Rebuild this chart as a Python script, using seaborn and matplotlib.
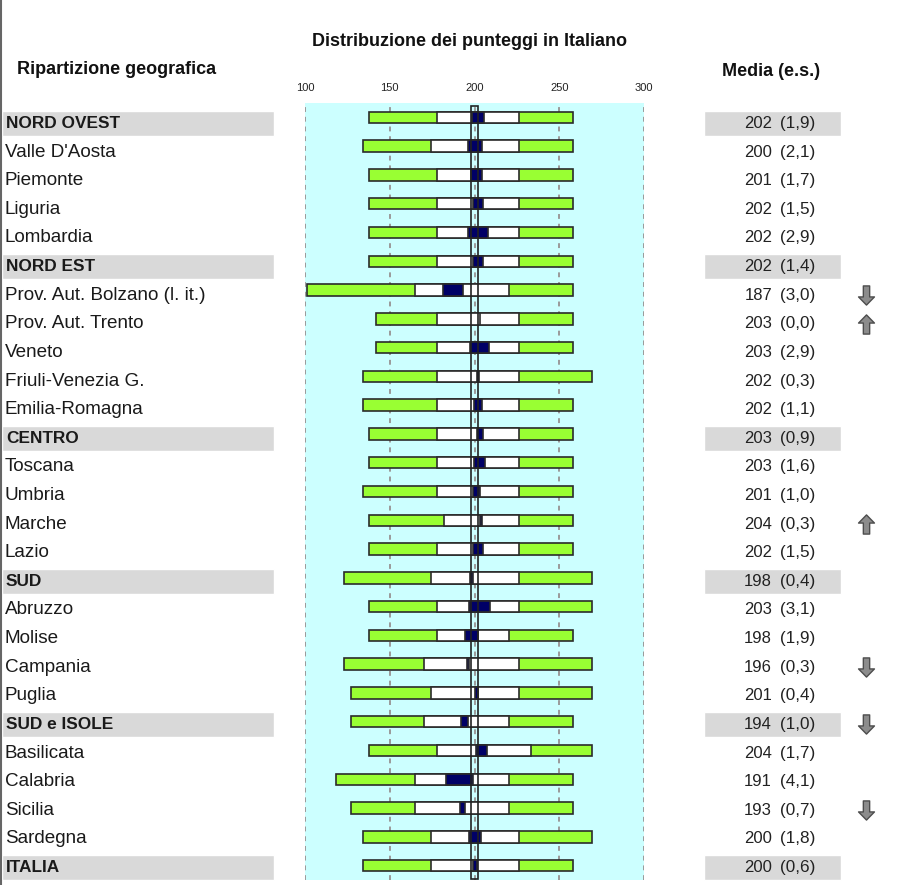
import numpy as np
import pandas as pd
import matplotlib.pyplot as plt
import seaborn as sns
from matplotlib.path import Path
from matplotlib.patches import Rectangle

### DATA ###

REGIONS = ["NORD OVEST", "Valle D'Aosta", "Piemonte", "Liguria", "Lombardia",
           "NORD EST", "Prov. Aut. Bolzano (l. it.)", "Prov. Aut. Trento", "Veneto",
           "Friuli-Venezia G.", "Emilia-Romagna", "CENTRO", "Toscana", "Umbria",
           "Marche", "Lazio", "SUD", "Abruzzo", "Molise", "Campania", "Puglia",
           "SUD e ISOLE", "Basilicata", "Calabria", "Sicilia", "Sardegna", "ITALIA"]
IS_AREA = [True, False, False, False, False, True, False, False, False, False, False,
           True, False, False, False, False, True, False, False, False, False, True,
           False, False, False, False, True]
MEANS = [202, 200, 201, 202, 202, 202, 187, 203, 203, 202, 202, 203, 203, 201,
         204, 202, 198, 203, 198, 196, 201, 194, 204, 191, 193, 200, 200]
SE = [1.9, 2.1, 1.7, 1.5, 2.9, 1.4, 3.0, 0.0, 2.9, 0.3, 1.1, 0.9, 1.6, 1.0,
      0.3, 1.5, 0.4, 3.1, 1.9, 0.3, 0.4, 1.0, 1.7, 4.1, 0.7, 1.8, 0.6]
P5 = [138, 134, 138, 138, 138, 138, 101, 142, 142, 134, 134, 138, 138, 134,
      138, 138, 123, 138, 138, 123, 127, 127, 138, 118, 127, 134, 134]
P25 = [178, 174, 178, 178, 178, 178, 165, 178, 178, 178, 178, 178, 178, 178,
       182, 178, 174, 178, 178, 170, 174, 170, 178, 165, 165, 174, 174]
P75 = [226, 226, 226, 226, 226, 226, 220, 226, 226, 226, 226, 226, 226, 226,
       226, 226, 226, 226, 220, 226, 226, 220, 233, 220, 220, 226, 226]
P95 = [258, 258, 258, 258, 258, 258, 258, 258, 258, 269, 258, 258, 258, 258,
       258, 258, 269, 269, 258, 269, 269, 258, 269, 258, 258, 269, 258]
# -1 significantly below Italy, +1 significantly above
TREND = [0, 0, 0, 0, 0, 0, -1, 1, 0, 0, 0, 0, 0, 0,
         1, 0, 0, 0, 0, -1, 0, -1, 0, 0, -1, 0, 0]
XTICKS = [100, 150, 200, 250, 300]

### STYLE ###

GREEN = "#99FF33"
NAVY = "#000066"
CYAN = "#CCFFFF"
BAND = "#D9D9D9"
EDGE = "#2b2b2b"
W, H = 906, 885


def fx(px):
    return px / W


def fy(py):
    return 1 - py / H


sns.set_theme(style="white")
plt.rcParams["font.family"] = ["Liberation Sans", "DejaVu Sans"]

df = pd.DataFrame({"regione": REGIONS, "area": IS_AREA, "media": MEANS, "es": SE,
                   "p5": P5, "p25": P25, "p75": P75, "p95": P95, "trend": TREND})
df["w_out"] = df["p95"] - df["p5"]
df["w_mid"] = df["p75"] - df["p25"]
df["ci_lo"] = df["media"] - 1.96 * df["es"]
df["w_ci"] = 2 * 1.96 * df["es"]
n = len(df)

fig = plt.figure(figsize=(W / 100, H / 100), dpi=100)

# table part: labels, values, arrows (x in pixels, y in rows)
tab = fig.add_axes([0, fy(881.8), 1, (881.8 - 109.2) / H])
tab.set_xlim(0, W)
tab.set_ylim(n - 0.5, -0.5)
tab.axis("off")

areas = df.index[df["area"]]
tab.barh(areas, 272, left=2, height=0.87, color=BAND)
tab.barh(areas, 137, left=703.5, height=0.87, color=BAND)

for i, row in df.iterrows():
    if row["area"]:
        tab.text(6, i, row["regione"], fontsize=12.4, fontweight="bold",
                 color="#1a1a1a", va="center")
    else:
        tab.text(5, i, row["regione"], fontsize=13.6, color="#1a1a1a", va="center")
    tab.text(772, i, f"{row['media']}", fontsize=12, color="#222222",
             ha="right", va="center")
    tab.text(780, i, "(" + f"{row['es']:.1f}".replace(".", ",") + ")", fontsize=12.3,
             color="#222222", ha="left", va="center")

# arrow markers
down = [(-0.33, 1), (0.33, 1), (0.33, -0.15), (0.83, -0.15), (0, -1),
        (-0.83, -0.15), (-0.33, -0.15), (-0.33, 1)]
codes = [Path.MOVETO] + [Path.LINETO] * 6 + [Path.CLOSEPOLY]
down_path = Path(down, codes)
up_path = Path([(x, -y) for x, y in down], codes)
dn = df.index[df["trend"] < 0]
upr = df.index[df["trend"] > 0]
tab.scatter(np.full(len(dn), 866), dn, marker=down_path, s=190,
            color="#8c8c8c", edgecolor="#4d4d4d", linewidth=1)
tab.scatter(np.full(len(upr), 866), upr, marker=up_path, s=190,
            color="#8c8c8c", edgecolor="#4d4d4d", linewidth=1)

# distribution bars
ax = fig.add_axes([fx(305), fy(880), (644.3 - 305) / W, (880 - 103) / H])
ax.set_facecolor(CYAN)
bar_kws = dict(orient="y", width=0.4, errorbar=None, saturation=1,
               edgecolor=EDGE, linewidth=1.2, ax=ax, zorder=3)
sns.barplot(data=df, x="w_out", y="regione", left=df["p5"].to_numpy(),
            color=GREEN, **bar_kws)
sns.barplot(data=df, x="w_mid", y="regione", left=df["p25"].to_numpy(),
            color="white", **bar_kws)
sns.barplot(data=df, x="w_ci", y="regione", left=df["ci_lo"].to_numpy(),
            color=NAVY, **bar_kws)

# reference box around Italy's mean
it_mean = df.loc[df["regione"] == "ITALIA", "media"].iloc[0]
ax.add_patch(Rectangle((it_mean - 2, -0.4), 4, n - 0.15, fill=False,
                       edgecolor="#222222", linewidth=1.2, zorder=6))

ax.set_xlim(XTICKS[0], XTICKS[-1])
ax.set_ylim(n - 0.5, -0.5)
ax.set_xticks(XTICKS)
ax.xaxis.tick_top()
ax.tick_params(axis="x", length=0, pad=7.5, labelsize=8, colors="#222222")
ax.set_yticks([])
ax.set_xlabel("")
ax.set_ylabel("")
for s in ax.spines.values():
    s.set_visible(False)
ax.grid(axis="x", color="#9a9a9a", linestyle=(0, (2.5, 2.5)), linewidth=1.4)
ax.set_axisbelow(True)
for gl in ax.get_xgridlines():
    gl.set_zorder(0.5)

# headers
fig.text(fx(470), fy(42), "Distribuzione dei punteggi in Italiano", fontsize=13,
         fontweight="bold", ha="center", va="center", color="#111111")
fig.text(fx(17), fy(70), "Ripartizione geografica", fontsize=13, fontweight="bold",
         ha="left", va="center", color="#111111")
fig.text(fx(771), fy(71), "Media (e.s.)", fontsize=13, fontweight="bold",
         ha="center", va="center", color="#111111")

fig.add_artist(plt.Line2D([fx(1), fx(1)], [0, 1], color="#666666", linewidth=1.5))

fig.savefig("out.png", dpi=100)
